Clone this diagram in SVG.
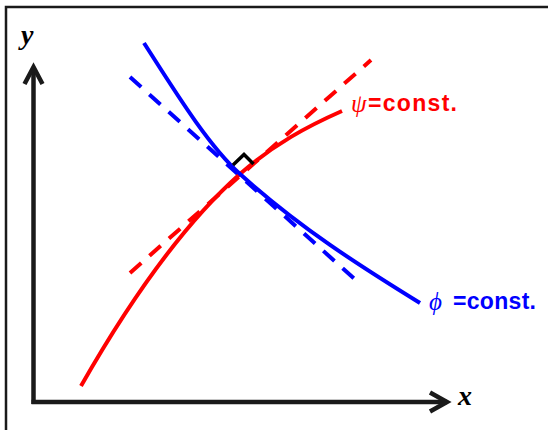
<svg xmlns="http://www.w3.org/2000/svg" width="548" height="430" viewBox="0 0 548 430">
  <style>
    .frame { fill: none; stroke: #1a1a1a; stroke-width: 2.5; }
    .axis { fill: none; stroke: #1a1a1a; stroke-width: 4.5; stroke-linejoin: miter; stroke-linecap: butt; }
    .red { fill: none; stroke: #ff0000; stroke-width: 4; }
    .blue { fill: none; stroke: #0000ff; stroke-width: 4; }
    .dash { stroke-dasharray: 15 11; }
    .ax-label { font-family: "Liberation Serif", serif; font-style: italic; font-weight: bold; font-size: 28px; fill: #000; }
    .greek { font-family: "Liberation Serif", serif; font-style: italic; font-size: 25px; }
    .const { font-family: "Liberation Sans", Arial, sans-serif; font-weight: bold; font-size: 23px; }
  </style>
  <rect width="548" height="430" fill="#ffffff"/>
  <path class="frame" d="M6,430 V7 H548"/>

  <g id="axes">
    <path class="axis" d="M33.5,404 V68"/>
    <path class="axis" d="M24.5,84 L33.5,67 L42.5,84"/>
    <path class="axis" d="M31.5,402 H447"/>
    <path class="axis" d="M430,392.5 L447,402 L430,411.5"/>
    <text class="ax-label" x="21" y="44">y</text>
    <text class="ax-label" x="458" y="405">x</text>
  </g>

  <g id="connectors">
    <path id="psi-tangent" class="red dash" d="M130,273 L371,60"/>
    <path id="phi-tangent" class="blue dash" d="M130,77 L359,283"/>
    <path id="psi-curve" class="red" d="M81,386 C134,293 187,221 240,174 C274,144 308,126 342,111"/>
    <path id="phi-curve" class="blue" d="M144,43 C176,93 208,145 240,174 C300,228 360,266 420,303"/>
    <path id="right-angle" fill="none" stroke="#000" stroke-width="3.5" d="M233,165 L244,154.5 L253.5,164"/>
  </g>

  <g id="psi-label">
    <text class="greek" x="351" y="112" fill="#ff0000">ψ</text>
    <text class="const" x="368" y="111" fill="#ff0000" textLength="89" lengthAdjust="spacing">=const.</text>
  </g>
  <g id="phi-label">
    <text class="greek" x="429" y="310" fill="#0000ff" font-size="27">ϕ</text>
    <text class="const" x="453" y="309" fill="#0000ff" textLength="83" lengthAdjust="spacing">=const.</text>
  </g>
</svg>
